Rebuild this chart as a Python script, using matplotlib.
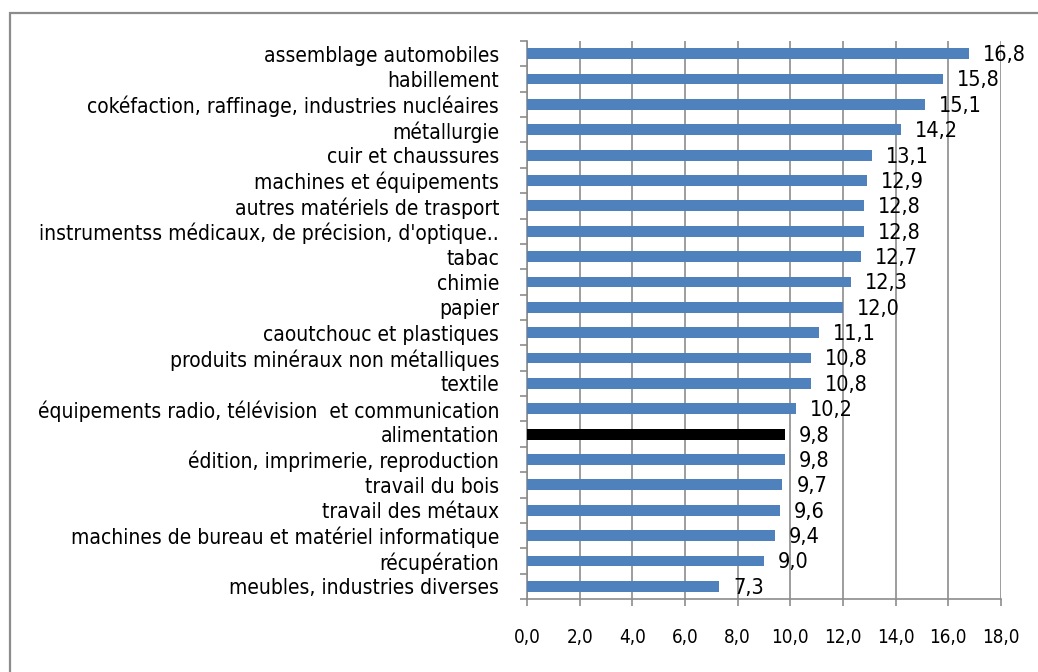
import matplotlib
matplotlib.use('Agg')
import matplotlib.pyplot as plt
from matplotlib import font_manager
from matplotlib.patches import Rectangle

# data (top to bottom as in the chart)
categories = [
    "assemblage automobiles",
    "habillement",
    "cokéfaction, raffinage, industries nucléaires",
    "métallurgie",
    "cuir et chaussures",
    "machines et équipements",
    "autres matériels de trasport",
    "instrumentss médicaux, de précision, d'optique..",
    "tabac",
    "chimie",
    "papier",
    "caoutchouc et plastiques",
    "produits minéraux non métalliques",
    "textile",
    "équipements radio, télévision  et communication",
    "alimentation",
    "édition, imprimerie, reproduction",
    "travail du bois",
    "travail des métaux",
    "machines de bureau et matériel informatique",
    "récupération",
    "meubles, industries diverses",
]
values = [16.8, 15.8, 15.1, 14.2, 13.1, 12.9, 12.8, 12.8, 12.7, 12.3, 12.0,
          11.1, 10.8, 10.8, 10.2, 9.8, 9.8, 9.7, 9.6, 9.4, 9.0, 7.3]
highlight = "alimentation"
x_ticks = [0, 2, 4, 6, 8, 10, 12, 14, 16, 18]

# look for a narrow font (the original uses Arial Narrow)
fonts = font_manager.fontManager.ttflist
names = {f.name for f in fonts}
fsize = 15
if 'Liberation Sans Narrow' in names:
    plt.rcParams['font.family'] = ['Liberation Sans Narrow', 'DejaVu Sans']
    fsize = 16
elif any(f.name == 'DejaVu Sans' and f.stretch == 'condensed' for f in fonts):
    plt.rcParams['font.family'] = ['DejaVu Sans']
    plt.rcParams['font.stretch'] = 'condensed'
else:
    plt.rcParams['font.family'] = ['Liberation Sans', 'DejaVu Sans']
    fsize = 13
plt.rcParams['font.size'] = fsize

blue = '#4F81BD'
grey = '#8C8C8C'

fig = plt.figure(figsize=(10.38, 6.72), dpi=100)
ax = fig.add_axes([527/1038, 1 - 599/672, 474/1038, 558/672])

# outer frame like the spreadsheet chart area
fig.patches.append(Rectangle((10/1038, -0.1), 1.2, 1 - 13/672 + 0.1,
                             transform=fig.transFigure, fill=False,
                             edgecolor=grey, linewidth=1.6))

ypos = list(range(len(categories)))
colors = ['black' if c == highlight else blue for c in categories]
ax.barh(ypos, values, height=0.43, color=colors, zorder=3)

for y, v in zip(ypos, values):
    ax.annotate(f"{v:.1f}".replace('.', ','), (v, y), xytext=(10, -1),
                textcoords='offset points', va='center', ha='left',
                fontsize=fsize + 0.5, zorder=4)

ax.set_ylim(len(categories) - 0.5, -0.5)
ax.set_xlim(0, 18)
ax.set_yticks(ypos)
ax.set_yticklabels(categories)
ax.set_yticks([i - 0.5 for i in range(len(categories) + 1)], minor=True)
ax.tick_params(axis='y', which='major', length=0, pad=20)
ax.tick_params(axis='y', which='minor', length=5, color=grey, width=1.2)
ax.set_xticks(x_ticks)
ax.set_xticklabels([f"{t:.1f}".replace('.', ',') for t in x_ticks])
ax.tick_params(axis='x', length=5, color=grey, width=1.2, pad=16,
               labelsize=fsize - 1.5)

ax.grid(axis='x', color=grey, linewidth=1.2, zorder=0)
ax.set_axisbelow(True)
for s in ['top', 'right']:
    ax.spines[s].set_visible(False)
for s in ['left', 'bottom']:
    ax.spines[s].set_color(grey)
    ax.spines[s].set_linewidth(1.2)

fig.savefig('out.png', dpi=100)
